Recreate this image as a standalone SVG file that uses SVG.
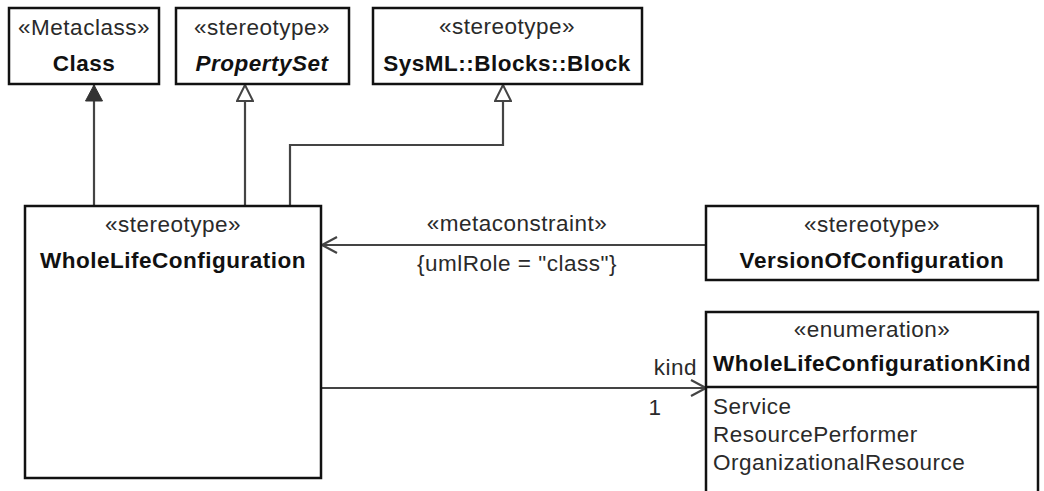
<svg xmlns="http://www.w3.org/2000/svg" width="1044" height="491" viewBox="0 0 1044 491">
<style>
.box{fill:#fff;stroke:#111;stroke-width:2.5}
.t{font-family:"Liberation Sans",Arial,sans-serif;font-size:22.5px;letter-spacing:0.5px;fill:#2a2a2a}
.c{text-anchor:middle}
.b{font-weight:bold;fill:#111}
.i{font-style:italic}
.ln{fill:none;stroke:#444;stroke-width:2.2}
</style>
<defs>
<marker id="filled" markerWidth="20" markerHeight="18" refX="17" refY="9" orient="auto" markerUnits="userSpaceOnUse" viewBox="0 0 20 18">
<path d="M1,0.5 L17,9 L1,17.5 Z" fill="#333" stroke="#333" stroke-width="1"/>
</marker>
<marker id="hollow" markerWidth="20" markerHeight="18" refX="17" refY="9" orient="auto" markerUnits="userSpaceOnUse" viewBox="0 0 20 18">
<path d="M1,1 L17,9 L1,17 Z" fill="#fff" stroke="#444" stroke-width="2"/>
</marker>
<marker id="open" markerWidth="20" markerHeight="20" refX="16" refY="10" orient="auto" markerUnits="userSpaceOnUse" viewBox="0 0 20 20">
<path d="M1,2 L16,10 L1,18" fill="none" stroke="#444" stroke-width="2.2"/>
</marker>
</defs>
<g id="connectors">
<line class="ln" x1="94" y1="206" x2="94" y2="85" marker-end="url(#filled)"/>
<line class="ln" x1="245" y1="206" x2="245" y2="85" marker-end="url(#hollow)"/>
<polyline class="ln" points="290,206 290,145 503,145 503,85" marker-end="url(#hollow)"/>
<line class="ln" x1="706" y1="245" x2="322" y2="245" marker-end="url(#open)"/>
<text class="t c" x="517" y="231">«metaconstraint»</text>
<text class="t c" x="517" y="271">{umlRole = "class"}</text>
<line class="ln" x1="322" y1="388" x2="706" y2="388" marker-end="url(#open)"/>
<text class="t" x="697" y="375" text-anchor="end">kind</text>
<text class="t" x="655" y="415" text-anchor="middle">1</text>
</g>
<g id="Class">
<rect class="box" x="9" y="8" width="150" height="76"/>
<text class="t c" x="84" y="35">«Metaclass»</text>
<text class="t c b" x="84" y="71">Class</text>
</g>
<g id="PropertySet">
<rect class="box" x="176" y="8" width="173" height="76"/>
<text class="t c" x="262" y="35">«stereotype»</text>
<text class="t c b i" x="262" y="71">PropertySet</text>
</g>
<g id="Block">
<rect class="box" x="373" y="8" width="269" height="76"/>
<text class="t c" x="507" y="34">«stereotype»</text>
<text class="t c b" x="507" y="71">SysML::Blocks::Block</text>
</g>
<g id="WholeLifeConfiguration">
<rect class="box" x="25" y="206" width="296" height="272"/>
<text class="t c" x="173" y="232">«stereotype»</text>
<text class="t c b" x="173" y="268">WholeLifeConfiguration</text>
</g>
<g id="VersionOfConfiguration">
<rect class="box" x="706" y="206" width="332" height="74"/>
<text class="t c" x="872" y="232">«stereotype»</text>
<text class="t c b" x="872" y="268">VersionOfConfiguration</text>
</g>
<g id="WholeLifeConfigurationKind">
<path class="box" d="M706,500 L706,312 L1038,312 L1038,500"/>
<line x1="706" y1="387" x2="1038" y2="387" stroke="#111" stroke-width="2.5"/>
<text class="t c" x="872" y="337">«enumeration»</text>
<text class="t c b" x="872" y="371">WholeLifeConfigurationKind</text>
<text class="t" x="713" y="414">Service</text>
<text class="t" x="713" y="442">ResourcePerformer</text>
<text class="t" x="713" y="470">OrganizationalResource</text>
</g>
</svg>
